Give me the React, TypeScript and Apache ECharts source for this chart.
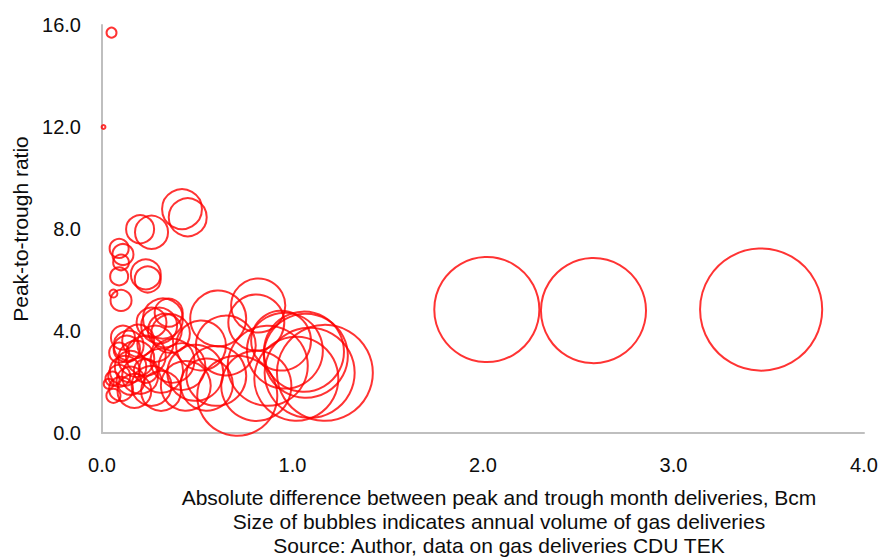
import React, { useEffect, useRef } from "react";
import * as echarts from "echarts";

// Absolute difference between peak and trough month deliveries, Bcm
const peakTroughDiff: number[] = [
  0.05, 0.008, 0.42, 0.45, 0.2, 0.26, 0.09, 0.11, 0.1, 0.09,
  0.23, 0.24, 0.06, 0.1, 0.32, 0.3, 0.33, 0.26, 0.35, 0.11,
  0.14, 0.19, 0.09, 0.18, 0.23, 0.12, 0.055, 0.035, 0.09, 0.15,
  0.2, 0.1, 0.17, 0.26, 0.06, 0.31, 0.31, 0.37, 0.23, 0.49,
  0.52, 0.61, 0.65, 0.6, 0.71, 0.44, 0.82, 0.81, 1.06, 0.87,
  0.96, 1.07, 1.09, 1.17, 1.02, 0.81, 0.94, 0.28, 0.36, 0.15,
  0.42, 0.55, 0.13, 2.02, 2.58, 3.46,
];

// Peak-to-trough ratio
const peakTroughRatio: number[] = [
  15.7, 12.0, 8.78, 8.46, 7.99, 7.87, 7.24, 7.0, 6.69, 6.14,
  6.22, 6.02, 5.47, 5.2, 4.49, 4.21, 4.02, 4.33, 4.72, 3.74,
  3.43, 3.62, 3.15, 2.91, 3.03, 2.44, 2.13, 1.93, 2.24, 2.05,
  2.24, 1.73, 1.65, 1.85, 1.46, 2.44, 1.65, 2.83, 2.44, 2.36,
  3.43, 4.49, 3.43, 2.24, 1.46, 1.85, 5.0, 4.33, 3.19, 2.64,
  3.23, 3.03, 2.36, 2.36, 2.13, 1.85, 3.62, 3.5, 3.9, 2.6,
  2.6, 1.9, 3.3, 4.84, 4.8, 4.84,
];

// Annual volume of gas deliveries, Bcm (bubble size)
const annualVolume: number[] = [
  0.2, 0.03, 3.2, 2.9, 1.58, 2.2, 0.73, 0.89, 0.5, 0.65,
  1.8, 1.36, 0.13, 0.89, 3.2, 2.6, 2.3, 1.8, 1.58, 1.16,
  1.8, 2.06, 0.8, 2.6, 3.2, 1.8, 0.4, 0.2, 0.97, 1.58,
  2.6, 1.16, 2.3, 3.2, 0.4, 3.9, 3.2, 3.9, 1.16, 6.3,
  5.0, 6.3, 7.2, 7.2, 12.9, 5.0, 5.9, 6.3, 12.9, 12.9,
  11.6, 14.2, 16.3, 18.5, 14.2, 9.9, 7.2, 2.6, 3.0, 2.0,
  4.4, 5.5, 1.4, 22.2, 22.2, 30,
];

const xTicks = [0, 1, 2, 3, 4];
const yTicks = [0, 4, 8, 12, 16];

const captionLines: string[] = [
  "Absolute difference between peak and trough month deliveries, Bcm",
  "Size of bubbles indicates annual volume of gas deliveries",
  "Source: Author, data on gas deliveries CDU TEK",
];
const yTitle = "Peak-to-trough ratio";

const FONT = '"Liberation Sans", Arial, sans-serif';
const INK = "#0d0d0d";

export default function App() {
  const ref = useRef<HTMLDivElement>(null);

  useEffect(() => {
    document.body.style.margin = "0";
    if (!ref.current) return;
    const chart = echarts.init(ref.current, undefined, { renderer: "svg" });
    const points = peakTroughDiff.map((x, i) => [x, peakTroughRatio[i], annualVolume[i]]);

    chart.setOption({
      animation: false,
      backgroundColor: "#ffffff",
      grid: { left: 102, right: 18, top: 25, bottom: 125, containLabel: false },
      xAxis: {
        type: "value",
        min: xTicks[0],
        max: xTicks[xTicks.length - 1],
        interval: 1,
        axisLine: { show: true, lineStyle: { color: "#bfbfbf", width: 2 } },
        axisTick: { show: false },
        splitLine: { show: false },
        axisLabel: {
          margin: 22,
          fontFamily: FONT,
          fontSize: 20,
          color: INK,
          formatter: (v: number) => v.toFixed(1),
        },
      },
      yAxis: {
        type: "value",
        min: yTicks[0],
        max: yTicks[yTicks.length - 1],
        interval: 4,
        axisLine: { show: true, lineStyle: { color: "#bfbfbf", width: 2 } },
        axisTick: { show: false },
        splitLine: { show: false },
        axisLabel: {
          margin: 21,
          fontFamily: FONT,
          fontSize: 20,
          color: INK,
          formatter: (v: number) => v.toFixed(1),
        },
      },
      graphic: [
        {
          type: "text",
          x: 20,
          y: 229,
          rotation: Math.PI / 2,
          style: {
            text: yTitle,
            fontFamily: FONT,
            fontSize: 21,
            fill: INK,
            align: "center",
            verticalAlign: "middle",
          },
        },
        ...captionLines.map((t, i) => ({
          type: "text",
          x: 499,
          y: 497 + i * 24,
          style: {
            text: t,
            fontFamily: FONT,
            fontSize: 21,
            fill: INK,
            align: "center",
            verticalAlign: "middle",
          },
        })),
      ],
      series: [
        {
          type: "scatter",
          data: points,
          clip: false,
          symbol: "circle",
          symbolSize: (val: number[]) => 22.3 * Math.sqrt(val[2]),
          itemStyle: { color: "rgba(0,0,0,0)", borderColor: "#ff0000", borderWidth: 2 },
          emphasis: { disabled: true },
        },
      ],
    });

    return () => chart.dispose();
  }, []);

  return <div ref={ref} style={{ width: 882, height: 558 }} />;
}
